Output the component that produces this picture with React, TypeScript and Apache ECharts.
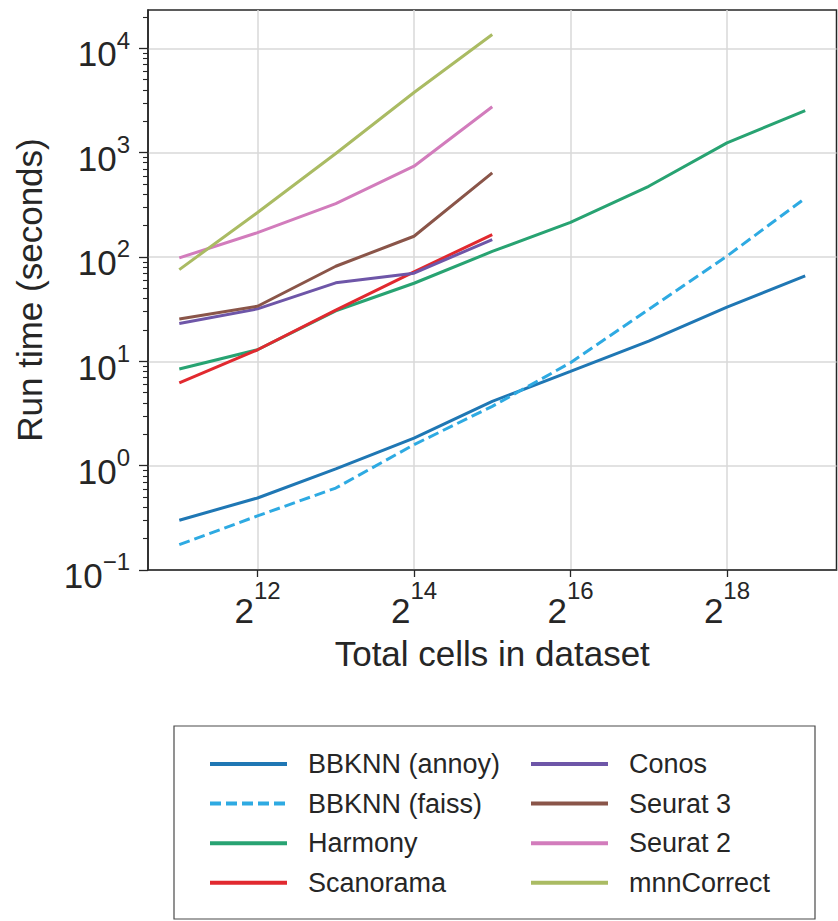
import React, { useEffect, useRef } from 'react';
import * as echarts from 'echarts';

// Total cells in dataset (x) and run times in seconds (y)
const cells = [2048, 4096, 8192, 16384, 32768, 65536, 131072, 262144, 524288];
const bbknnAnnoy = [0.3, 0.49, 0.93, 1.84, 4.14, 8.0, 15.6, 33, 66];
const bbknnFaiss = [0.175, 0.33, 0.61, 1.59, 3.7, 9.7, 31.5, 102, 365];
const harmony = [8.45, 12.9, 30.5, 56, 113, 215, 476, 1240, 2530];
const scanorama = [6.2, 12.9, 31, 72, 164];
const conos = [23, 31.8, 56.5, 70, 147];
const seurat3 = [25.5, 33.7, 81.5, 158, 640];
const seurat2 = [98, 171, 325, 741, 2750];
const mnnCorrect = [75.7, 267, 980, 3770, 13560];

const seriesNames = [
  'BBKNN (annoy)',
  'BBKNN (faiss)',
  'Harmony',
  'Scanorama',
  'Conos',
  'Seurat 3',
  'Seurat 2',
  'mnnCorrect',
];
const seriesValues = [bbknnAnnoy, bbknnFaiss, harmony, scanorama, conos, seurat3, seurat2, mnnCorrect];
const seriesColors = ['#1f77b4', '#2eaae2', '#28a372', '#e1292f', '#6e56a8', '#8a5549', '#d27cbc', '#aabb63'];
const seriesDashed = [false, true, false, false, false, false, false, false];

const xTickValues = [4096, 16384, 65536, 262144];
const yTickValues = [0.1, 1, 10, 100, 1000, 10000];
const minorMultipliers = [2, 3, 4, 5, 6, 7, 8, 9];

const FONT = '"Liberation Sans", Arial, Helvetica, sans-serif';
const TEXT = '#262626';

export default function App() {
  const ref = useRef<HTMLDivElement>(null);

  useEffect(() => {
    if (!ref.current) return;
    const chart = echarts.init(ref.current, undefined, { renderer: 'svg' });

    const xMin = Math.pow(2, 10.6);
    const xMax = Math.pow(2, 19.4);
    const yMin = 0.1;
    const yMax = Math.pow(10, 4.367);

    const yMinor: number[] = [];
    yTickValues.forEach((d) => {
      minorMultipliers.forEach((m) => {
        const v = +(d * m).toPrecision(3);
        if (v < yMax) yMinor.push(v);
      });
    });

    const series = seriesNames.map((name, k) => ({
      type: 'line',
      name,
      data: seriesValues[k].map((v, i) => [cells[i], v]),
      symbol: 'none',
      showSymbol: false,
      lineStyle: { color: seriesColors[k], width: 3, type: seriesDashed[k] ? [11, 5] : 'solid' },
      itemStyle: { color: seriesColors[k] },
      emphasis: { disabled: true },
      z: 3 + k * 0.01,
    }));

    const legendCommon = {
      orient: 'vertical',
      top: 749,
      itemWidth: 77,
      itemHeight: 14,
      itemGap: 9.6,
      padding: 0,
      selectedMode: false,
      textStyle: { fontSize: 27, lineHeight: 30, color: TEXT, fontFamily: FONT, padding: [0, 0, 0, 16] },
      lineStyle: { width: 4 },
      itemStyle: { opacity: 0 },
    };

    chart.setOption({
      animation: false,
      backgroundColor: '#ffffff',
      textStyle: { fontFamily: FONT },
      grid: {
        left: 148,
        top: 10,
        right: 1.5,
        bottom: 351,
        show: true,
        borderColor: '#262626',
        borderWidth: 1.5,
        backgroundColor: 'transparent',
      },
      xAxis: {
        type: 'log',
        logBase: 4,
        min: xMin,
        max: xMax,
        name: 'Total cells in dataset',
        nameLocation: 'middle',
        nameGap: 66,
        nameTextStyle: { fontSize: 35, color: TEXT, fontFamily: FONT },
        axisLine: { show: true, lineStyle: { color: '#262626', width: 1.5 } },
        axisTick: { show: true, length: 7, customValues: xTickValues, lineStyle: { color: '#262626', width: 1.3 } },
        minorTick: { show: false },
        axisLabel: {
          customValues: xTickValues,
          margin: 14,
          formatter: (v: number) => `{b|2}{s|${Math.round(Math.log2(v))}}`,
          rich: {
            b: { fontSize: 35, lineHeight: 35, padding: [18.7, 0, 0, 0], color: TEXT, fontFamily: FONT },
            s: { fontSize: 24, lineHeight: 24, padding: [4, 0, 25.7, 0], color: TEXT, fontFamily: FONT },
          },
        },
        splitLine: { show: true, lineStyle: { color: '#d9d9d9', width: 1.5 } },
      },
      yAxis: [
        {
          type: 'log',
          logBase: 10,
          min: yMin,
          max: yMax,
          name: 'Run time (seconds)',
          nameLocation: 'middle',
          nameGap: 101,
          nameTextStyle: { fontSize: 35, color: TEXT, fontFamily: FONT },
          axisLine: { show: true, lineStyle: { color: '#262626', width: 1.5 } },
          axisTick: { show: true, length: 9, customValues: yTickValues, lineStyle: { color: '#262626', width: 1.3 } },
          minorTick: { show: false },
          axisLabel: {
            customValues: yTickValues,
            margin: 18,
            formatter: (v: number) => {
              const e = Math.round(Math.log10(v));
              const s = e < 0 ? '\u2212' + String(-e) : String(e);
              return `{b|10}{s|${s}}`;
            },
            rich: {
              b: { fontSize: 35, lineHeight: 35, padding: [11.4, 0, 0, 0], color: TEXT, fontFamily: FONT },
              s: { fontSize: 24, lineHeight: 24, padding: [3, 0, 19.4, 0], color: TEXT, fontFamily: FONT },
            },
          },
          splitLine: { show: true, lineStyle: { color: '#d9d9d9', width: 1.5 } },
        },
        {
          type: 'log',
          logBase: 10,
          min: yMin,
          max: yMax,
          position: 'left',
          axisLine: { show: false },
          axisTick: { show: true, length: 5, customValues: yMinor, lineStyle: { color: '#262626', width: 1.1 } },
          minorTick: { show: false },
          axisLabel: { show: false },
          splitLine: { show: false },
        },
      ],
      legend: [
        { ...legendCommon, left: 208, data: seriesNames.slice(0, 4) },
        { ...legendCommon, left: 529, data: seriesNames.slice(4) },
      ],
      graphic: [
        {
          type: 'rect',
          silent: true,
          shape: { x: 174, y: 726, width: 641, height: 193 },
          style: { fill: 'none', stroke: '#4a4a4a', lineWidth: 1.2 },
        },
      ],
      series,
    });

    return () => {
      chart.dispose();
    };
  }, []);

  return (
    <div
      ref={ref}
      style={{ position: 'absolute', left: 0, top: 0, width: 838, height: 921 }}
    />
  );
}
